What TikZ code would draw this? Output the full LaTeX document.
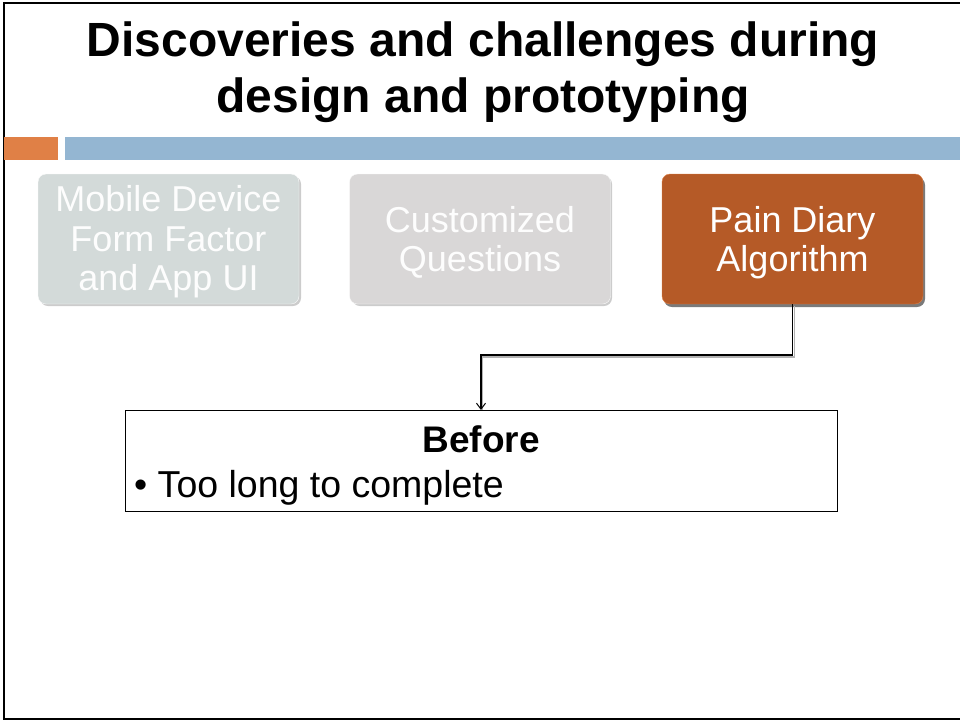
\documentclass[tikz,border=0pt]{standalone}
\usepackage{fontspec}
\setmainfont{Liberation Sans}
\usetikzlibrary{arrows.meta,calc}
\definecolor{orangebar}{HTML}{E08046}
\definecolor{bluebar}{HTML}{94B6D2}
\definecolor{boxA}{HTML}{D3DAD9}
\definecolor{boxB}{HTML}{D9D7D7}
\definecolor{boxC}{HTML}{B55A27}
\definecolor{shadowc}{HTML}{CCCCCC}
\tikzset{
  x=1pt,y=-1pt,
  topic/.style={rounded corners=8pt, minimum width=261pt, minimum height=130pt, inner sep=0pt},
  topictext/.style={align=center, inner sep=0pt, font=\fontsize{36}{39.5}\selectfont},
  conn/.style={line width=1.5pt, -{Straight Barb[length=6pt,width=9pt,line width=1pt]}},
}
\begin{document}
\begin{tikzpicture}
\useasboundingbox (0,0) rectangle (960,721);
% frame
\draw[line width=2pt] (961,3) -- (4,3) -- (4,719) -- (961,719);
% title
\node[font=\bfseries\fontsize{48}{56}\selectfont, align=center, anchor=center] (title) at (483,72)
  {Discoveries and challenges during\\design and prototyping};
% bars
\fill[orangebar] (4,137) rectangle (58,160);
\fill[bluebar] (65,137) rectangle (960,160);
% topic boxes
\fill[shadowc, rounded corners=8pt] (40,176) rectangle (301,306);
\node[topic, fill=boxA, draw=white!90!boxA] (a) at (168.5,239) {};
\node[topictext, text=white!95!boxA] (at) at (168.5,242) {Mobile Device\\Form Factor\\and App UI};
\fill[shadowc, rounded corners=8pt] (352,176) rectangle (612,306);
\node[topic, fill=boxB, draw=white!90!boxB] (b) at (480,239) {};
\node[topictext, text=white!95!boxB] (bt) at (480,242.5) {Customized\\Questions};
\fill[shadowc!60!black, rounded corners=8pt] (664,177) rectangle (925,307);
\node[topic, fill=boxC, draw=orangebar] (c) at (792.5,239) {};
\node[topictext, text=white] (ct) at (792.5,242.5) {Pain Diary\\Algorithm};
% before box
\node[draw, line width=1.3pt, minimum width=712pt, minimum height=101pt, inner sep=0pt, anchor=north west] (before) at (125,410) {};
\node[font=\bfseries\fontsize{37}{40}\selectfont, anchor=base] (beforet) at (481,452) {Before};
\node[font=\fontsize{37.5}{40}\selectfont, anchor=base west, inner sep=0pt] (item) at (134,497) {\textbullet\ Too long to complete};
% connector
\coordinate (elbow2) at (481,355);
\draw[gray!60, line width=1.5pt] ($(c.south)+(2,2)$) -- ++(0,51) -- ++(-312,0) -- ++(0,53);
\draw[conn] (c.south) |- (elbow2) -- (before.north -| elbow2);
\end{tikzpicture}
\end{document}
